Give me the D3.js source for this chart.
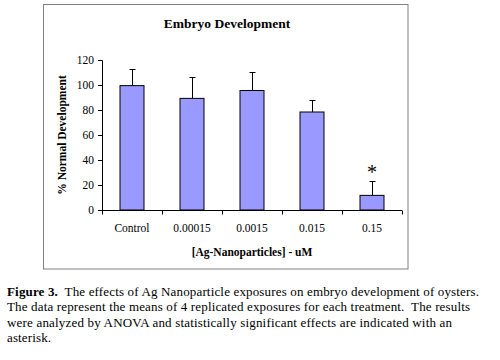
<!DOCTYPE html>
<html><head><meta charset="utf-8">
<script src="https://cdn.jsdelivr.net/npm/d3@7"></script>
<style>body{margin:0;background:#fff;} svg{display:block;}</style>
</head><body>
<svg id="c" width="500" height="360"></svg>
<script>
const categories = ["Control", "0.00015", "0.0015", "0.015", "0.15"];
const means = [99.5, 89.3, 95.6, 78.4, 11.7];
const errors = [13, 17, 15, 10, 11.5];
const significant = [false, false, false, false, true];
const yTicks = [0, 20, 40, 60, 80, 100, 120];
const captionBold = ["Figure 3.", "", "", ""];
const captionText = [
  "  The effects of Ag Nanoparticle exposures on embryo development of oysters.",
  "The data represent the means of 4 replicated exposures for each treatment.  The results",
  "were analyzed by ANOVA and statistically significant effects are indicated with an",
  "asterisk."
];

const svg = d3.select("#c");
const font = "'Liberation Serif','Times New Roman',serif";
const captionRight = [479, 470, 452, 51];

svg.append("rect").attr("x", 43.5).attr("y", 4.5).attr("width", 364.5).attr("height", 264.5)
  .attr("fill", "#fff").attr("stroke", "#808080").attr("stroke-width", 1);

const x = d3.scaleBand().domain(categories).range([102, 402]).paddingInner(0.6).paddingOuter(0.3);
const y = d3.scaleLinear().domain([0, 120]).range([210, 60]);

svg.append("text").attr("x", 227).attr("y", 28).attr("text-anchor", "middle")
  .attr("font-family", font).attr("font-weight", "bold").attr("font-size", 13.5).text("Embryo Development");

// y axis
const ya = svg.append("g").attr("transform", "translate(102,0)")
  .call(d3.axisLeft(y).tickValues(yTicks).tickSize(4).tickPadding(4));
ya.select(".domain").attr("stroke", "#000");
ya.selectAll("text").attr("font-family", font).attr("font-size", 11.5).attr("fill", "#000");

// x axis with ticks at boundaries
const xb = d3.scaleLinear().domain([0, categories.length]).range([102, 402]);
const xg = svg.append("g").attr("transform", "translate(0,210.5)");
xg.append("line").attr("x1", 102).attr("x2", 402).attr("stroke", "#000");
xg.selectAll("line.t").data(d3.range(categories.length + 1)).enter().append("line")
  .attr("class", "t").attr("x1", d => xb(d) + 0.5).attr("x2", d => xb(d) + 0.5)
  .attr("y1", 0).attr("y2", 4).attr("stroke", "#000");
xg.selectAll("text").data(categories).enter().append("text")
  .attr("x", d => x(d) + x.bandwidth() / 2).attr("y", 21).attr("text-anchor", "middle")
  .attr("font-family", font).attr("font-size", 11.5).text(d => d);

// error bars (upper only)
const g = svg.append("g");
categories.forEach((c, i) => {
  const cx = Math.round(x(c) + x.bandwidth() / 2) + 0.5;
  const ty = Math.round(y(means[i] + errors[i])) + 0.5;
  g.append("line").attr("x1", cx).attr("x2", cx).attr("y1", y(means[i])).attr("y2", ty).attr("stroke", "#000");
  g.append("line").attr("x1", cx - 3).attr("x2", cx + 3).attr("y1", ty).attr("y2", ty).attr("stroke", "#000");
});
// bars
g.selectAll("rect").data(categories).enter().append("rect")
  .attr("x", d => x(d)).attr("width", x.bandwidth())
  .attr("y", (d, i) => y(means[i])).attr("height", (d, i) => y(0) - y(means[i]))
  .attr("fill", "#9999ff").attr("stroke", "#000").attr("stroke-width", 1);
// asterisks
categories.forEach((c, i) => {
  if (!significant[i]) return;
  g.append("text").attr("x", x(c) + x.bandwidth() / 2).attr("y", y(means[i] + errors[i]) - 2)
    .attr("text-anchor", "middle").attr("font-family", font).attr("font-size", 20).text("*");
});

// axis titles
svg.append("text").attr("x", 252).attr("y", 256).attr("text-anchor", "middle")
  .attr("font-family", font).attr("font-weight", "bold").attr("font-size", 11.5).text("[Ag-Nanoparticles] - uM");
svg.append("text").attr("transform", "translate(66,135) rotate(-90)").attr("text-anchor", "middle")
  .attr("font-family", font).attr("font-weight", "bold").attr("font-size", 11.5).text("% Normal Development");

// caption
captionText.forEach((ln, i) => {
  const t = svg.append("text").attr("x", 7).attr("y", 296 + i * 15.4)
    .attr("font-family", font).attr("font-size", 13).attr("fill", "#000")
    .attr("xml:space", "preserve").style("white-space", "pre")
    .attr("textLength", captionRight[i] - 7).attr("lengthAdjust", "spacing");
  if (captionBold[i]) t.append("tspan").attr("font-weight", "bold").text(captionBold[i]);
  t.append("tspan").text(ln);
});
</script>
</body></html>
